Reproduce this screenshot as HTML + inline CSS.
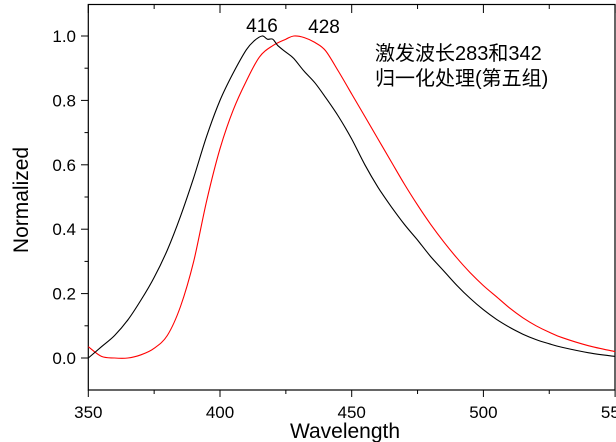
<!DOCTYPE html>
<html><head><meta charset="utf-8"><style>
body{margin:0;background:#fff;}
svg{display:block;font-family:"Liberation Sans",Arial,sans-serif;}
</style></head><body>
<svg id="chart" width="616" height="442">
<g id="axes"></g><g id="series"></g>
<text x="262" y="32" font-size="19" text-anchor="middle">416</text>
<text x="324" y="33" font-size="19" text-anchor="middle">428</text>
<text x="375" y="60" font-size="20" font-family="'Liberation Sans','Noto Sans CJK SC',sans-serif">激发波长283和342</text>
<text x="375" y="85" font-size="20" font-family="'Liberation Sans','Noto Sans CJK SC',sans-serif">归一化处理(第五组)</text>
<text x="345" y="438" font-size="21" text-anchor="middle">Wavelength</text>
<text transform="translate(28,200) rotate(-90)" font-size="21" text-anchor="middle">Normalized</text>
</svg>
<script>
const xTicks=[350,400,450,500,550];
const yTicks=[0.0,0.2,0.4,0.6,0.8,1.0];
const blackX=[350,355,360,365,370,375,380,385,390,395,400,405,410,413,416,418,420,422,425,428,432,436,440,445,450,455,460,465,470,475,480,485,490,495,500,505,510,515,520,525,530,540,550];
const blackY=[0.0,0.035,0.07,0.118,0.18,0.25,0.335,0.44,0.56,0.69,0.80,0.885,0.957,0.985,1.0,0.99,0.99,0.97,0.95,0.93,0.89,0.855,0.81,0.75,0.68,0.60,0.53,0.47,0.415,0.366,0.315,0.27,0.225,0.185,0.15,0.12,0.095,0.074,0.057,0.044,0.033,0.016,0.005];
const redX=[350,355,360,365,370,375,380,385,390,395,400,405,410,415,420,425,428,432,436,440,445,450,455,460,465,470,475,480,485,490,495,500,505,510,515,520,525,530,540,550];
const redY=[0.035,0.005,0.0,0.0,0.01,0.03,0.07,0.16,0.30,0.49,0.65,0.77,0.86,0.935,0.97,0.99,1.0,0.995,0.98,0.955,0.89,0.82,0.75,0.68,0.61,0.54,0.475,0.415,0.36,0.31,0.265,0.225,0.19,0.155,0.125,0.10,0.08,0.063,0.038,0.02];
const NS="http://www.w3.org/2000/svg";
const X=v=>88.3+(v-350)*2.634;
const Y=v=>358-v*322;
const axes=document.getElementById('axes'),series=document.getElementById('series');
function mk(tag,attrs,parent){const e=document.createElementNS(NS,tag);for(const k in attrs)e.setAttribute(k,attrs[k]);parent.appendChild(e);return e;}
const frame=mk('rect',{x:88.3,y:4.5,width:526.7,height:385.5,fill:'none',stroke:'#000','stroke-width':1.2},axes);


for(let v=350;v<=550;v+=25){
 const big=(v%50===0);const x=X(v);
 mk('line',{x1:x,x2:x,y1:390,y2:big?397:394,stroke:'#000'},axes);
 mk('line',{x1:x,x2:x,y1:4.5,y2:big?13:9,stroke:'#000'},axes);
}
xTicks.forEach(v=>{const t=mk('text',{x:X(v),y:418,'font-size':17,'text-anchor':'middle'},axes);t.textContent=v;

});
for(let i=-1;i<=11;i++){const v=i/10;const y=Y(v);if(y<5||y>390)continue;
 mk('line',{x1:88.3,x2:i%2===0?81:84.5,y1:y,y2:y,stroke:'#000'},axes);}
yTicks.forEach(v=>{const t=mk('text',{x:76,y:Y(v)+6,'font-size':17,'text-anchor':'end'},axes);t.textContent=v.toFixed(1);

});
function line(xs,ys,color,name){
 const pts=xs.map((x,i)=>[X(x),Y(ys[i])]);
 let d='M'+pts[0][0].toFixed(1)+','+pts[0][1].toFixed(1);
 for(let i=0;i<pts.length-1;i++){
  const p0=pts[Math.max(0,i-1)],p1=pts[i],p2=pts[i+1],p3=pts[Math.min(pts.length-1,i+2)];
  const c1=[p1[0]+(p2[0]-p0[0])/6,p1[1]+(p2[1]-p0[1])/6];
  const c2=[p2[0]-(p3[0]-p1[0])/6,p2[1]-(p3[1]-p1[1])/6];
  d+='C'+c1.map(n=>n.toFixed(1)).join(',')+' '+c2.map(n=>n.toFixed(1)).join(',')+' '+p2.map(n=>n.toFixed(1)).join(',');
 }
 const p=mk('path',{d:d,fill:'none',stroke:color,'stroke-width':1.1,'stroke-linejoin':'round'},series);
 
 
}
line(redX,redY,'#ff0000','series-428-red');
line(blackX,blackY,'#000000','series-416-black');
</script>
</body></html>
